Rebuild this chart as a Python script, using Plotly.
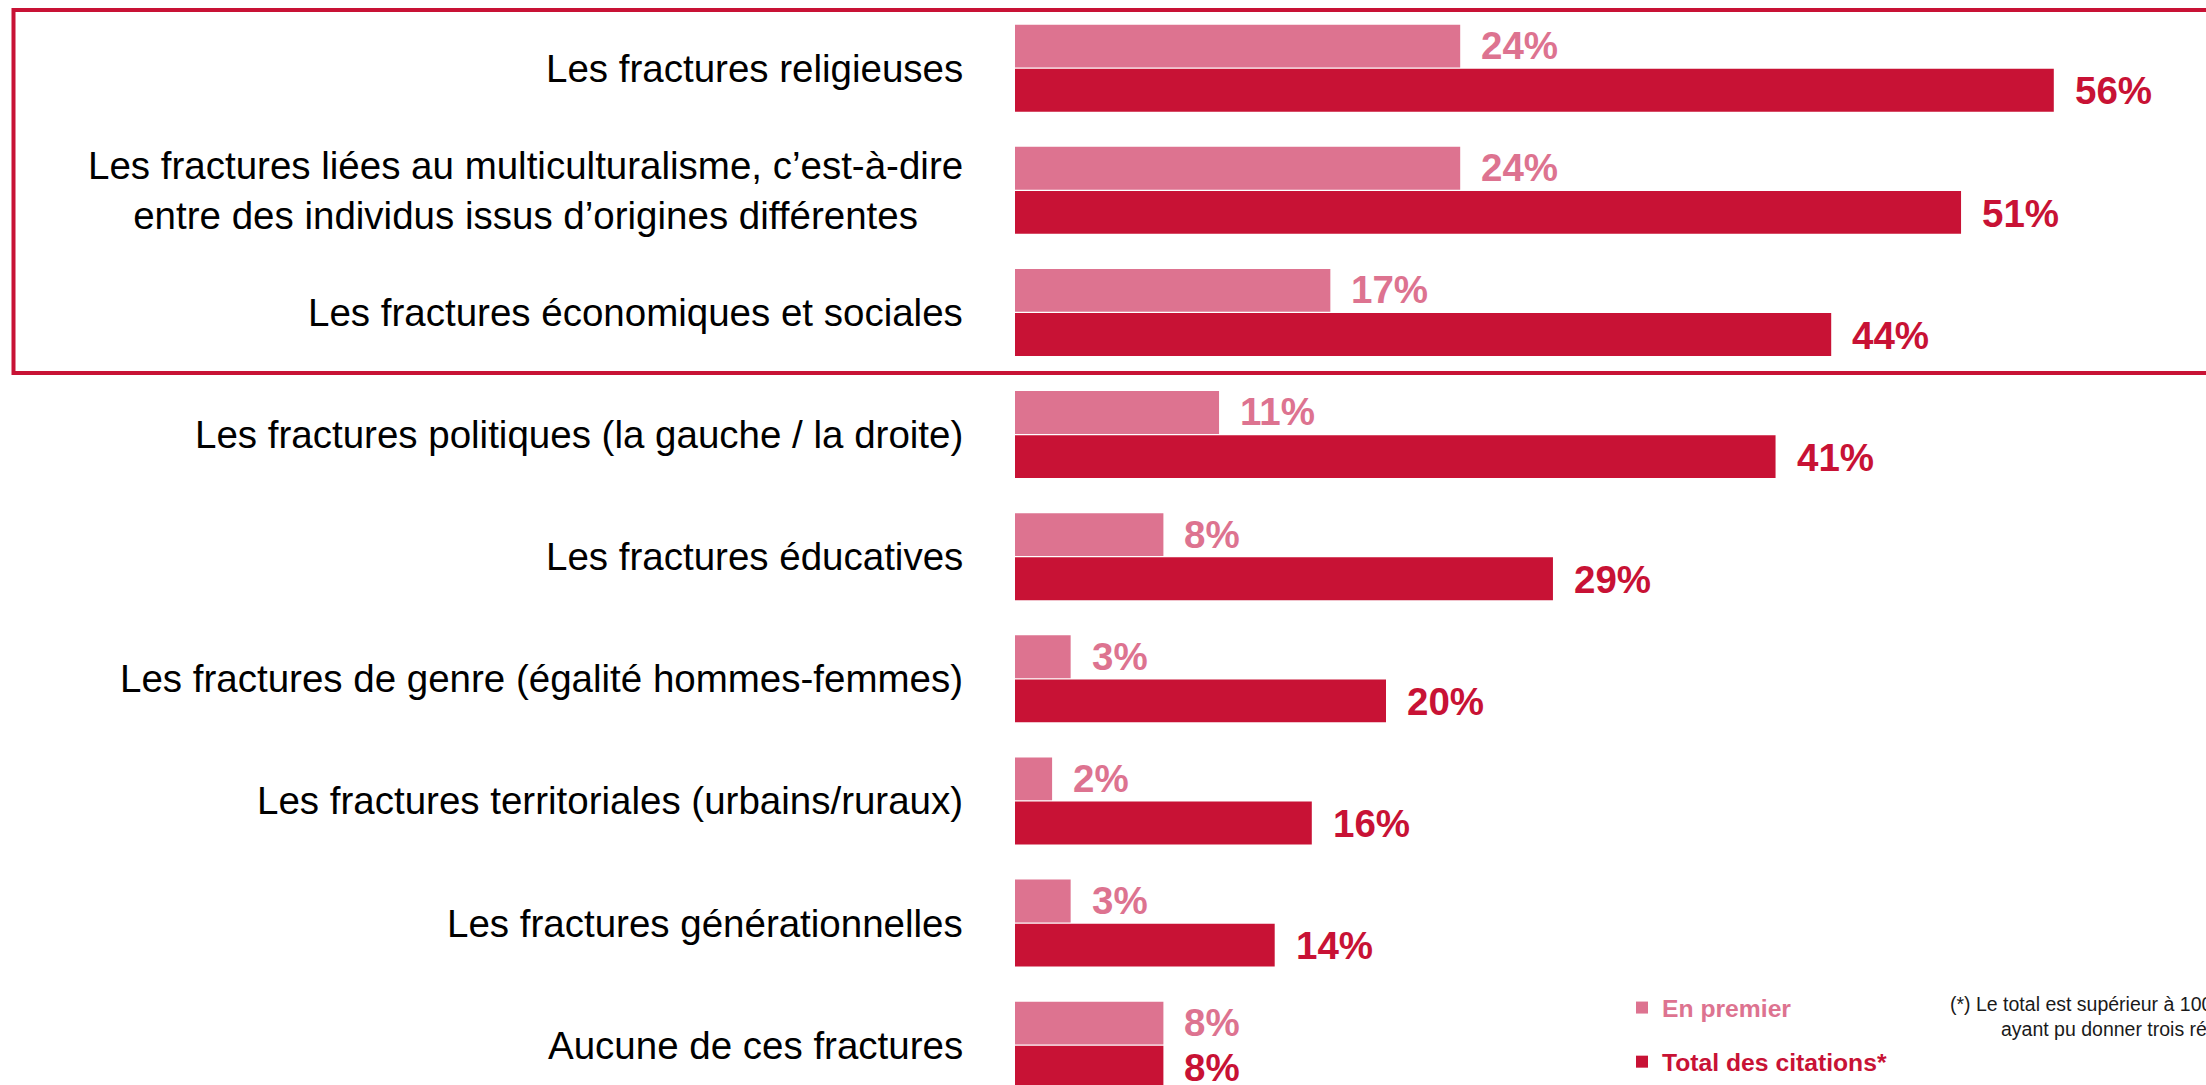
import plotly.graph_objects as go

categories = [
    "Les fractures religieuses",
    "Les fractures liées au multiculturalisme, c’est-à-dire<br>entre des individus issus d’origines différentes",
    "Les fractures économiques et sociales",
    "Les fractures politiques (la gauche / la droite)",
    "Les fractures éducatives",
    "Les fractures de genre (égalité hommes-femmes)",
    "Les fractures territoriales (urbains/ruraux)",
    "Les fractures générationnelles",
    "Aucune de ces fractures",
]
en_premier = [24, 24, 17, 11, 8, 3, 2, 3, 8]
total_citations = [56, 51, 44, 41, 29, 20, 16, 14, 8]
series_names = ["En premier", "Total des citations*"]
footnote_lines = ["(*) Le total est supérieur à 100, les interviewés", "ayant pu donner trois réponses"]

PINK = "#DD7390"
RED = "#C81235"
FONT = "Liberation Sans, Arial, sans-serif"
W, H = 2206, 1085
LEFT = 1015
PX_PER_PCT = 18.55
PX_PER_CAT = 122.125
FIRST_CENTER = 68.2

fig = go.Figure()
for name, vals, col, grp in [(series_names[0], en_premier, PINK, "a"),
                             (series_names[1], total_citations, RED, "b")]:
    fig.add_trace(go.Bar(
        y=categories, x=vals, orientation="h", name=f"<span style='color:{col}'><b>{name}</b></span>",
        marker=dict(color=col, line=dict(width=0)), legendgroup=grp,
        hoverinfo="x+y",
    ))

annotations = []
for cat, v1, v2 in zip(categories, en_premier, total_citations):
    annotations.append(dict(x=0, xref="paper", y=cat, yref="y", text=cat, showarrow=False,
                            xanchor="right", yanchor="middle", xshift=-50, align="center",
                            font=dict(family=FONT, size=38.5, color="#000000")))
    annotations.append(dict(x=v1, xref="x", y=cat, yref="y", text=f"<b>{v1}%</b>", showarrow=False,
                            xanchor="left", yanchor="middle", xshift=19, yshift=22.7,
                            font=dict(family=FONT, size=38.5, color=PINK)))
    annotations.append(dict(x=v2, xref="x", y=cat, yref="y", text=f"<b>{v2}%</b>", showarrow=False,
                            xanchor="left", yanchor="middle", xshift=19, yshift=-22.7,
                            font=dict(family=FONT, size=38.5, color=RED)))

FOOT_FONT = dict(family="Liberation Sans Narrow, Liberation Sans, sans-serif", size=19.5, color="#1a1a1a")
annotations.append(dict(x=(1948 - LEFT) / (W - LEFT), xref="paper", y=1 - 1004 / H, yref="paper",
                        text=footnote_lines[0], showarrow=False, xanchor="left", yanchor="middle",
                        font=FOOT_FONT))
annotations.append(dict(x=(1999 - LEFT) / (W - LEFT), xref="paper", y=1 - 1029 / H, yref="paper",
                        text=footnote_lines[1], showarrow=False, xanchor="left", yanchor="middle",
                        font=FOOT_FONT))

y_top = -FIRST_CENTER / PX_PER_CAT
y_bottom = y_top + H / PX_PER_CAT

fig.update_layout(
    width=W, height=H,
    margin=dict(l=LEFT, r=0, t=0, b=0, pad=0),
    paper_bgcolor="white", plot_bgcolor="white",
    barmode="group", bargap=0.277, bargroupgap=0.03,
    xaxis=dict(visible=False, range=[0, (W - LEFT) / PX_PER_PCT]),
    yaxis=dict(type="category", range=[y_bottom, y_top], showticklabels=False,
               showgrid=False, zeroline=False, showline=False, ticks=""),
    showlegend=True,
    legend=dict(x=(1622 - LEFT) / (W - LEFT), xanchor="left", y=0, yanchor="bottom",
                font=dict(family=FONT, size=24.7), tracegroupgap=19, bgcolor="rgba(0,0,0,0)",
                traceorder="grouped"),
    annotations=annotations,
    shapes=[dict(type="rect", xref="paper", yref="paper",
                 x0=(13.5 - LEFT) / (W - LEFT), x1=1.1,
                 y0=1 - 373 / H, y1=1 - 10 / H,
                 line=dict(color=RED, width=4), fillcolor="rgba(0,0,0,0)", layer="above")],
)

fig.write_html("out.html", config={"displayModeBar": False},
               post_script="document.body.style.margin='0';document.body.style.overflow='hidden';")
